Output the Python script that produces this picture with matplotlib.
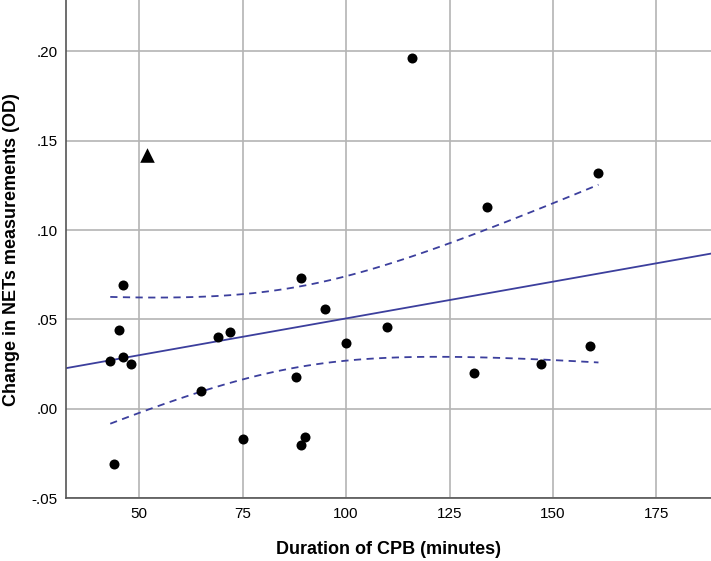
import numpy as np
import matplotlib.pyplot as plt

# CPB duration (minutes) and change in NETs (OD)
cpb_minutes = [43, 44, 45, 46, 46, 48, 65, 69, 72, 75, 88, 89, 89, 90, 95,
               100, 110, 116, 131, 134, 147, 159, 161]
nets_change = [0.027, -0.031, 0.044, 0.069, 0.029, 0.025, 0.010, 0.040, 0.043,
               -0.017, 0.018, 0.073, -0.020, -0.016, 0.056, 0.037, 0.046, 0.196,
               0.020, 0.113, 0.025, 0.035, 0.132]

# point drawn as a triangle (still part of the fit)
triangle_x = [52]
triangle_y = [0.142]

x_ticks = [50, 75, 100, 125, 150, 175]
y_ticks = [-0.05, 0.00, 0.05, 0.10, 0.15, 0.20]
y_labels = ['-.05', '.00', '.05', '.10', '.15', '.20']

plt.rcParams['font.family'] = ['Liberation Sans', 'DejaVu Sans']

x = np.array(cpb_minutes + triangle_x, dtype=float)
y = np.array(nets_change + triangle_y)

# linear fit and 95% CI of the mean
slope, intercept = np.polyfit(x, y, 1)
n = len(x)
resid = y - (intercept + slope * x)
s = np.sqrt(np.sum(resid ** 2) / (n - 2))
t_val = 2.074  # t(0.975, df=22)
sxx = np.sum((x - x.mean()) ** 2)

fig = plt.figure(figsize=(7.11, 5.61), dpi=100)
ax = fig.add_axes([0.0928, 0.1118, 0.9072, 0.8882])

xmin, xmax = 32.3, 188.2
line_color = '#3c3f9d'

xl = np.linspace(xmin, xmax, 50)
ax.plot(xl, intercept + slope * xl, color=line_color, lw=1.3, zorder=2)

xc = np.linspace(x.min(), x.max(), 100)
half = t_val * s * np.sqrt(1 / n + (xc - x.mean()) ** 2 / sxx)
fit_c = intercept + slope * xc
ax.plot(xc, fit_c + half, color=line_color, lw=1.3, ls=(0, (4, 3)), zorder=2)
ax.plot(xc, fit_c - half, color=line_color, lw=1.3, ls=(0, (4, 3)), zorder=2)

ax.scatter(cpb_minutes, nets_change, s=52, color='black', zorder=3, linewidths=0)
ax.scatter(triangle_x, triangle_y, s=110, marker='^', color='black', zorder=3, linewidths=0)

ax.set_xlim(xmin, xmax)
ax.set_ylim(-0.05, 0.2286)
ax.set_xticks(x_ticks)
ax.set_yticks(y_ticks)
ax.set_yticklabels(y_labels)
ax.tick_params(length=0, labelsize=11, pad=6)
ax.grid(True, color='#b4b4b4', lw=1.2)
ax.set_axisbelow(True)

for side in ['top', 'right']:
    ax.spines[side].set_visible(False)
for side in ['left', 'bottom']:
    ax.spines[side].set_color('#555555')
    ax.spines[side].set_linewidth(1.2)

ax.set_xlabel('Duration of CPB (minutes)', fontsize=13, fontweight='bold', labelpad=15)
ax.set_ylabel('Change in NETs measurements (OD)', fontsize=13, fontweight='bold', labelpad=8)

fig.savefig('out.png', dpi=100)
